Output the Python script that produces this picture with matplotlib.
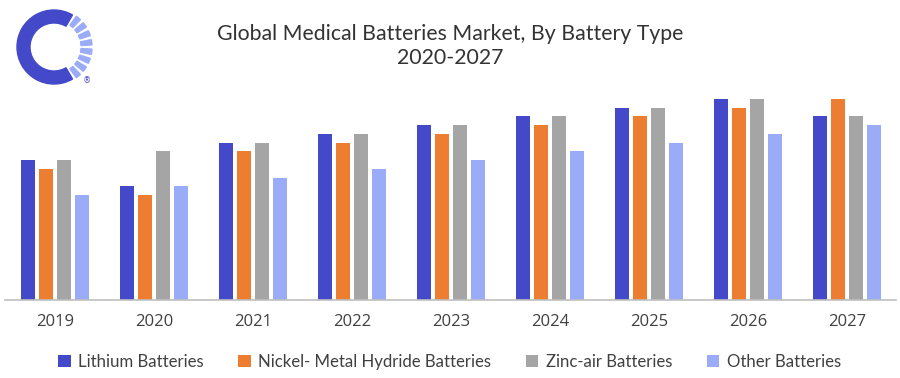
import matplotlib.pyplot as plt
import numpy as np
from matplotlib.patches import Wedge

# Data
years = ['2019', '2020', '2021', '2022', '2023', '2024', '2025', '2026', '2027']
lithium = [16, 13, 18, 19, 20, 21, 22, 23, 21]
nickel = [15, 12, 17, 18, 19, 20, 21, 22, 23]
zinc_air = [16, 17, 18, 19, 20, 21, 22, 23, 21]
other = [12, 13, 14, 15, 16, 17, 18, 19, 20]

series = [lithium, nickel, zinc_air, other]
labels = ['Lithium Batteries', 'Nickel- Metal Hydride Batteries',
          'Zinc-air Batteries', 'Other Batteries']
colors = ['#4349C9', '#ED7D31', '#A5A5A5', '#9AABF8']

fig = plt.figure(figsize=(9, 3.78), dpi=100)
ax = fig.add_axes([0.006, 0.206, 0.990, 0.579])

x = np.arange(len(years))
width = 0.142
step = 0.184
for i, (vals, lab, col) in enumerate(zip(series, labels, colors)):
    ax.bar(x + (i - 1.5) * step, vals, width, label=lab, color=col)

ax.set_xlim(-0.5, 8.5)
ax.set_ylim(0, 25)
ax.set_yticks([])
ax.set_xticks(x)
ax.set_xticklabels(years, fontsize=12, color='#404040', family='Open Sans')
ax.tick_params(axis='x', length=0, pad=10)
for s in ['top', 'right', 'left']:
    ax.spines[s].set_visible(False)
ax.spines['bottom'].set_color('#BFBFBF')
ax.spines['bottom'].set_linewidth(1.2)

# Title
fig.text(0.5, 0.91, 'Global Medical Batteries Market, By Battery Type',
         ha='center', va='center', fontsize=15.3, color='#333333', family='Lato')
fig.text(0.5, 0.847, '2020-2027', ha='center', va='center',
         fontsize=15.3, color='#333333', family='Lato')

# Legend
leg = fig.legend(loc='center', bbox_to_anchor=(0.4995, 0.042), ncol=4, frameon=False,
                 handlelength=0.75, handleheight=0.75, handletextpad=0.45,
                 columnspacing=2.05, prop={'family': 'Lato', 'size': 12.1})
for t in leg.get_texts():
    t.set_color('#404040')

# Logo
lax = fig.add_axes([0.0, 0.76, 0.13, 0.24])
lax.set_xlim(0, 117)
lax.set_ylim(90.7, 0)
lax.set_aspect('equal')
lax.axis('off')
cx, cy = 54, 47
lax.add_patch(Wedge((cx, cy), 37, 60, 300, width=13, color='#4349C9'))
for a in np.linspace(-50, 50, 8):
    lax.add_patch(Wedge((cx, cy), 38, a - 4, a + 4, width=11, color='#9AABF8'))
lax.text(87, 81, '®', fontsize=6, color='#4349C9', ha='center', va='center')

plt.savefig('out.png', dpi=100)
